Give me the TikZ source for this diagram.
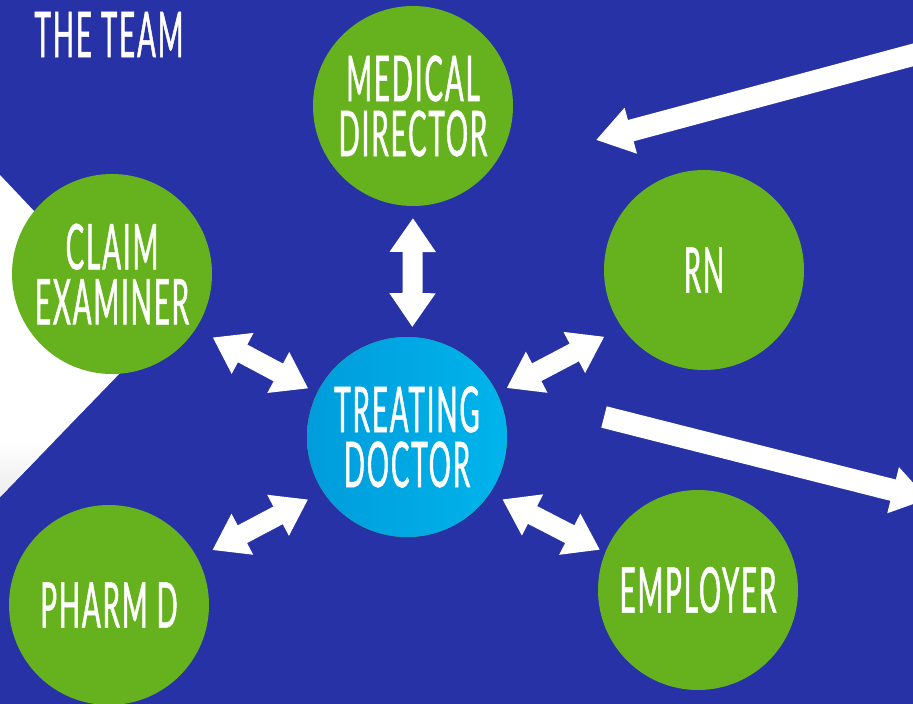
\documentclass[tikz,border=0pt]{standalone}
\usepackage{fontspec}
\usetikzlibrary{arrows.meta}
\newfontfamily\equipo{Lato}[FakeStretch=0.44, LetterSpace=3, FakeBold=0.8]
\definecolor{fondo}{HTML}{2632A6}
\definecolor{verde}{HTML}{66B21E}
\definecolor{celesteA}{HTML}{009CDB}
\definecolor{celesteB}{HTML}{00B4EB}

\begin{document}
\begin{tikzpicture}[x=1pt,y=-1pt]
% estilos de linea y relleno
\tikzstyle{rol} = [circle, minimum size=200pt, inner sep=0pt, outer sep=0pt, fill=verde, text=white, align=center, font=\equipo\fontsize{63}{55}\selectfont];
\tikzstyle{medico} = [rol, left color=celesteA, right color=celesteB];
\tikzstyle{doble} = [white, line width=20pt, {Triangle[width=44pt,length=34pt]}-{Triangle[width=44pt,length=34pt]}];
\tikzstyle{simple} = [white, line width=22pt, -{Triangle[width=45pt,length=36pt]}];
% definicion flecha doble entre nudos
% #1: nudo inicial
% #2: nudo final
% #3: recorte al inicio
% #4: recorte al final
\newcommand{\flechadoble}[4]{
\draw [doble, shorten <=#3pt, shorten >=#4pt] #1 -- #2;
 }
% fondo
\useasboundingbox (0,0) rectangle (913,704);
\clip (0,0) rectangle (913,704);
\fill [fondo] (0,0) rectangle (913,704);
\begin{scope}
\clip (0,175) -- (154,338) -- (0,497) -- cycle;
\fill [white] (0,175) rectangle (160,497);
\shade [top color=white, bottom color=black!8] (0,440) rectangle (160,500);
\end{scope}
% dibujar nudos
\node [text=white, font=\equipo\fontsize{63}{55}\selectfont] (titulo) at (109,34.5) {THE TEAM};
\node [rol] (director) at (413,106) {MEDICAL\\DIRECTOR};
\node [rol] (examinador) at (112,274) {CLAIM\\EXAMINER};
\node [rol] (enfermera) at (704,270) {RN};
\node [medico] (tratante) at (407,437) {TREATING\\DOCTOR};
\node [rol] (farmacia) at (109,605) {PHARM D};
\node [rol] (empleador) at (698,590) {EMPLOYER};
% dibujar flechas dobles
\flechadoble{(director.-90)}{(tratante.87)}{12}{10}
\flechadoble{(examinador.-33)}{(tratante.154)}{19}{10}
\flechadoble{(enfermera.-145.5)}{(tratante.26)}{20}{11}
\flechadoble{(empleador.158)}{(tratante.-34)}{6}{14}
\flechadoble{(farmacia.28)}{(tratante.-147.5)}{17}{17}
% dibujar flechas de entrada y salida
\coordinate (entrada) at (935,49);
\coordinate (llegada) at (596,140);
\coordinate (partida) at (604,417);
\coordinate (salida) at (928,499);
\draw [simple] (entrada) -- (llegada);
\draw [simple] (partida) -- (salida);
\end{tikzpicture}
\end{document}
